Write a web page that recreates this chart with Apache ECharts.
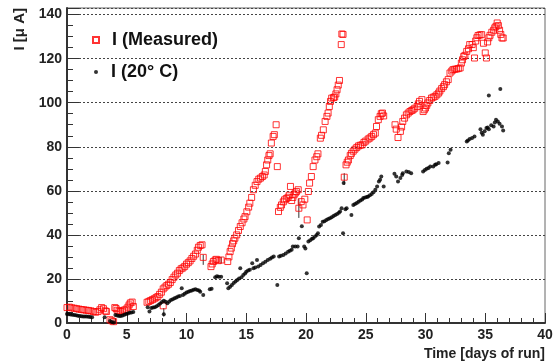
<!DOCTYPE html>
<html>
<head>
<meta charset="utf-8">
<script src="https://cdn.jsdelivr.net/npm/echarts@6/dist/echarts.min.js"></script>
<style>
  html, body { margin: 0; padding: 0; background: #fff; }
  #chart { width: 556px; height: 364px; }
</style>
</head>
<body>
<div id="chart"></div>
<script>
// I (Measured): [day, current in uA]
const measured = [
  [0.0, 7.0], [0.2, 7.2], [0.4, 6.9], [0.6, 6.7], [0.8, 6.5], [1.0, 6.3], [1.2, 6.1], [1.4, 6.0],
  [1.6, 5.8], [1.8, 5.7], [2.0, 5.5], [2.2, 5.2], [2.4, 4.9], [2.6, 5.2], [2.75, 6.0], [2.9, 7.0],
  [3.05, 6.5], [3.2, 5.5], [3.3, 5.2], [3.6, 1.5], [3.75, 1.0], [3.9, 0.6], [4.0, 7.0], [4.1, 6.6],
  [4.2, 5.8], [4.35, 5.4], [4.5, 5.3], [4.65, 5.5], [4.8, 5.9], [4.95, 6.3], [5.1, 7.2], [5.2, 8.2],
  [5.3, 9.1], [5.45, 9.5], [5.55, 7.5],
  [6.7, 9.4], [6.85, 9.8], [7.0, 10.2], [7.15, 10.6], [7.3, 11.0], [7.45, 11.5], [7.6, 12.0],
  [7.75, 13.0], [7.9, 14.0], [8.05, 15.5], [8.05, 7.8], [8.2, 16.3], [8.35, 17.0], [8.5, 17.6],
  [8.65, 18.4], [8.8, 19.7], [8.95, 20.8], [9.1, 21.8], [9.25, 22.6], [9.4, 23.8], [9.55, 24.6],
  [9.7, 25.0], [9.85, 25.7], [10.0, 26.7], [10.15, 27.4], [10.3, 28.2], [10.45, 29.3], [10.6, 30.3],
  [10.75, 31.3], [10.9, 33.0], [11.0, 34.4], [11.15, 35.2], [11.3, 35.5], [11.4, 29.8],
  [12.05, 25.6], [12.15, 26.8], [12.25, 27.9], [12.4, 28.6], [12.5, 28.9], [12.65, 28.3], [12.9, 28.6],
  [13.45, 27.9], [13.55, 30.0], [13.65, 32.4], [13.75, 34.0], [13.85, 36.0], [13.95, 37.3],
  [14.05, 38.5], [14.2, 40.0], [14.35, 42.0], [14.5, 43.8], [14.65, 45.5], [14.8, 47.2], [14.9, 48.3],
  [15.05, 50.5], [15.2, 52.6], [15.3, 54.4], [15.45, 57.0], [15.6, 60.5], [15.75, 62.5], [15.9, 64.2],
  [16.05, 65.3], [16.2, 65.8], [16.35, 66.5], [16.5, 67.2], [16.6, 68.8], [16.7, 71.8], [16.8, 74.0],
  [16.9, 76.0], [17.0, 76.8], [17.1, 81.7], [17.25, 84.7], [17.35, 85.5], [17.5, 90.0], [17.6, 71.0],
  [17.7, 50.6], [17.85, 52.5], [17.95, 53.6], [18.1, 55.0], [18.2, 55.9], [18.35, 56.5], [18.5, 57.1],
  [18.6, 58.0], [18.7, 62.0], [18.8, 55.6], [18.9, 57.0], [19.0, 58.2], [19.1, 59.0], [19.2, 59.7],
  [19.35, 60.5], [19.4, 52.1], [19.6, 55.1], [19.75, 53.6], [19.9, 56.2], [20.1, 46.8], [20.2, 59.7],
  [20.3, 63.5], [20.45, 66.5], [20.6, 71.0], [20.75, 74.0], [20.9, 75.5], [21.0, 76.8], [21.2, 83.9],
  [21.3, 85.2], [21.45, 87.7], [21.6, 91.5], [21.75, 93.8], [21.85, 95.3], [21.95, 98.3], [22.05, 100.6],
  [22.15, 102.1], [22.3, 102.3], [22.4, 102.6], [22.5, 104.0], [22.6, 105.9], [22.7, 108.0], [22.8, 110.1],
  [22.95, 126.4], [23.0, 131.2], [23.1, 131.0],
  [23.2, 66.2], [23.35, 71.8], [23.45, 73.0], [23.55, 74.0], [23.7, 76.0], [23.8, 77.0], [23.95, 78.0],
  [24.1, 78.9], [24.25, 79.7], [24.4, 80.4], [24.55, 80.7], [24.7, 80.9], [24.85, 82.0], [25.0, 82.6],
  [25.2, 83.5], [25.35, 84.0], [25.5, 84.7], [25.65, 85.5], [25.8, 86.2], [25.9, 89.2], [26.05, 92.3],
  [26.2, 93.8], [26.3, 95.0], [26.4, 95.3], [26.5, 94.0],
  [27.45, 90.0], [27.55, 88.0], [27.7, 84.2], [27.9, 87.0], [28.0, 89.0], [28.1, 91.5], [28.25, 93.0],
  [28.4, 94.5], [28.55, 95.3], [28.7, 96.0], [28.85, 96.5], [28.96, 96.8], [29.1, 97.5], [29.3, 98.3],
  [29.4, 99.5], [29.5, 100.6], [29.7, 101.4], [29.8, 96.0], [29.9, 96.8], [30.0, 97.6], [30.1, 98.8],
  [30.2, 99.9], [30.35, 101.0], [30.5, 102.1], [30.65, 102.5], [30.8, 102.9], [30.95, 103.6],
  [31.1, 104.4], [31.2, 105.3], [31.35, 106.4], [31.5, 107.3], [31.6, 108.2], [31.75, 109.5],
  [31.9, 110.5], [32.05, 113.5], [32.2, 114.4], [32.3, 115.0], [32.45, 115.2], [32.6, 115.3],
  [32.75, 115.5], [32.9, 115.8], [33.0, 118.0], [33.1, 119.5], [33.2, 121.0], [33.3, 121.5],
  [33.45, 123.3], [33.6, 124.5], [33.7, 126.4], [33.9, 126.4], [34.0, 125.0], [34.1, 120.3],
  [34.2, 128.0], [34.3, 129.5], [34.4, 130.5], [34.55, 130.8], [34.7, 130.9], [34.85, 127.0],
  [35.0, 122.6], [35.1, 120.3], [35.2, 127.6], [35.3, 129.5], [35.4, 130.6], [35.55, 132.0],
  [35.7, 132.9], [35.8, 134.0], [35.9, 134.7], [36.0, 136.2], [36.1, 135.0], [36.2, 132.9],
  [36.3, 131.0], [36.4, 129.4], [36.5, 129.4]
]

// I (20 C): [day, current in uA]
const corrected = [
  [0.0, 4.1], [0.15, 4.0], [0.3, 3.9], [0.45, 3.7], [0.6, 3.6], [0.75, 3.5], [0.9, 3.3], [1.05, 3.2],
  [1.2, 3.1], [1.35, 3.0], [1.5, 2.95], [1.65, 2.9], [1.8, 2.8], [1.95, 2.7], [2.1, 2.6], [3.15, 2.6],
  [3.6, 0.9], [3.75, 0.5], [3.9, 0.2], [4.05, 3.6], [4.2, 3.4], [4.35, 3.2], [4.5, 3.2], [4.65, 3.4],
  [4.8, 3.8], [4.95, 4.1], [5.1, 4.3], [5.25, 4.6], [5.4, 4.8], [5.55, 5.0],
  [6.75, 7.1], [6.9, 5.2], [7.05, 6.8], [7.2, 7.0], [7.35, 7.1], [7.5, 7.6], [7.65, 8.2], [7.8, 8.8],
  [7.95, 9.5], [8.1, 10.1], [8.1, 4.0], [8.25, 9.6], [8.4, 9.0], [8.55, 9.8], [8.7, 10.4], [8.85, 10.8],
  [9.0, 11.2], [9.15, 11.6], [9.3, 12.0], [9.45, 12.3], [9.6, 15.8], [9.7, 12.7], [9.85, 13.3],
  [10.0, 13.8], [10.15, 14.2], [10.3, 14.5], [10.45, 14.8], [10.6, 15.1], [10.75, 15.3], [10.9, 15.0],
  [11.05, 14.8], [11.15, 14.2], [11.4, 12.7],
  [11.95, 15.3], [12.1, 15.6], [12.4, 20.8], [12.55, 21.2], [12.7, 21.0], [12.9, 21.0],
  [13.4, 18.0], [13.5, 15.8], [13.65, 16.5], [13.8, 17.3], [13.95, 18.2], [14.1, 18.8], [14.25, 19.5],
  [14.4, 20.2], [14.5, 24.8], [14.6, 20.8], [14.75, 21.8], [14.9, 22.5], [15.0, 23.3], [15.15, 23.8],
  [15.3, 24.2], [15.5, 27.1], [15.6, 24.8], [15.75, 25.2], [15.9, 28.6], [16.0, 25.6], [16.2, 26.3],
  [16.4, 27.1], [16.6, 27.8], [16.8, 28.6], [17.0, 29.2], [17.15, 29.7], [17.3, 30.2], [17.6, 17.3],
  [17.75, 30.2], [17.9, 30.5], [18.1, 30.9], [18.3, 31.5], [18.5, 32.4], [18.65, 32.8], [18.8, 33.2],
  [18.9, 34.7], [19.1, 34.7], [19.3, 34.7], [19.4, 38.5], [19.65, 43.9], [19.85, 34.7], [19.95, 33.8],
  [20.06, 22.6], [20.2, 37.0], [20.35, 37.6], [20.5, 38.3], [20.6, 38.5], [20.75, 39.3], [20.9, 40.0],
  [21.0, 40.8], [21.1, 43.8], [21.25, 44.5], [21.4, 46.0], [21.55, 46.2], [21.7, 46.8], [21.85, 47.2],
  [22.0, 47.6], [22.15, 48.0], [22.3, 48.6], [22.45, 49.0], [22.6, 49.5], [22.75, 50.0], [22.85, 50.6],
  [22.98, 52.1], [23.1, 40.8], [23.15, 63.5], [23.3, 51.6], [23.4, 52.1], [23.8, 49.0], [23.96, 53.6],
  [24.1, 54.0], [24.25, 54.5], [24.4, 55.1], [24.55, 55.6], [24.7, 56.1], [24.8, 56.7], [24.95, 57.0],
  [25.1, 57.2], [25.2, 57.4], [25.35, 58.0], [25.5, 58.6], [25.65, 59.3], [25.8, 60.5], [25.95, 62.0],
  [26.1, 64.2], [26.2, 65.0], [26.3, 66.5], [26.5, 62.0],
  [27.4, 67.8], [27.55, 66.5], [27.7, 64.2], [27.9, 65.8], [28.05, 67.2], [28.1, 68.0], [28.4, 68.8],
  [28.6, 68.5], [28.8, 68.0], [29.8, 68.8], [29.95, 69.5], [30.1, 70.0], [30.25, 70.4], [30.4, 71.0],
  [30.65, 71.0], [30.8, 71.8], [30.9, 72.1], [31.1, 72.6], [31.85, 72.9], [31.95, 77.1], [32.1, 78.6],
  [33.45, 82.4], [33.55, 82.9], [33.7, 83.5], [33.9, 84.0], [34.1, 84.7], [34.6, 88.0], [34.7, 86.4],
  [34.8, 85.5], [34.95, 87.0], [35.1, 88.5], [35.2, 88.8], [35.3, 88.0], [35.3, 103.3], [35.5, 89.8],
  [35.7, 89.2], [35.8, 91.0], [35.9, 92.3], [36.05, 91.5], [36.2, 90.5], [36.26, 106.2], [36.4, 89.2],
  [36.5, 87.4]
]

// error bars: [day, low, high]
const errorBars = [
  [8.1, 2.9, 6.8], [11.4, 26.4, 31.0], [12.9, 27.0, 30.0], [19.4, 47.7, 56.4], [23.2, 62.7, 68.0]
]

const xTicks = { min: 0, max: 40, step: 5 }
const yTicks = { min: 0, max: 143, step: 20 }

const font = '"Liberation Sans", Arial, Helvetica, sans-serif'

const chart = echarts.init(document.getElementById('chart'), null, { renderer: 'canvas' })

const legendText = { fontFamily: font, fontWeight: 'bold', fontSize: 18, color: '#111', padding: [0, 0, 0, 8] }

const option = {
  animation: false,
  backgroundColor: '#ffffff',
  grid: {
    left: 67,
    right: 11,
    top: 8,
    bottom: 41,
    show: true,
    borderColor: '#666',
    borderWidth: 1,
  },
  legend: [
    {
      data: ['I (Measured)'],
      left: 87,
      top: 26,
      itemWidth: 6,
      itemHeight: 6,
      textStyle: legendText,
    },
    {
      data: ['I (20\u00B0 C)'],
      left: 89,
      top: 58,
      itemWidth: 4,
      itemHeight: 4,
      textStyle: legendText,
    },
  ],
  xAxis: {
    type: 'value',
    min: xTicks.min,
    max: xTicks.max,
    interval: xTicks.step,
    axisLine: { lineStyle: { color: '#333', width: 2 } },
    axisTick: { inside: true, length: 10, lineStyle: { color: '#333', width: 1 } },
    minorTick: { show: true, splitNumber: 5, length: 5, lineStyle: { color: '#333', width: 1 } },
    axisLabel: { fontFamily: font, fontWeight: 'bold', fontSize: 14, color: '#222', margin: 5 },
    splitLine: { show: false },
  },
  yAxis: {
    type: 'value',
    min: yTicks.min,
    max: yTicks.max,
    interval: yTicks.step,
    axisLine: { show: true, lineStyle: { color: '#333', width: 2 } },
    axisTick: { show: true, inside: true, length: 12, lineStyle: { color: '#333', width: 1 } },
    minorTick: { show: true, splitNumber: 4, length: 6, lineStyle: { color: '#333', width: 1 } },
    axisLabel: { fontFamily: font, fontWeight: 'bold', fontSize: 14, color: '#222', margin: 5 },
    splitLine: { show: true, lineStyle: { color: '#444', width: 1, type: [2, 2] } },
  },
  graphic: [
    {
      type: 'text',
      x: 20,
      y: 8,
      rotation: Math.PI / 2,
      style: {
        text: 'I [\u03BC A]',
        font: 'bold 15px ' + font,
        fill: '#222',
        textAlign: 'right',
        textVerticalAlign: 'middle',
      },
    },
    {
      type: 'text',
      right: 11,
      top: 347,
      style: {
        text: 'Time [days of run]',
        font: 'bold 14px ' + font,
        fill: '#222',
      },
    },
  ],
  series: [
    {
      name: 'I (Measured)',
      type: 'scatter',
      symbol: 'rect',
      symbolSize: 6,
      data: measured,
      itemStyle: { color: 'rgba(255,255,255,0)', borderColor: '#ff0000', borderWidth: 1 },
      z: 3,
    },
    {
      name: 'I (20\u00B0 C)',
      type: 'scatter',
      symbol: 'circle',
      symbolSize: 4,
      data: corrected,
      itemStyle: { color: '#000' },
      z: 4,
    },
    {
      type: 'custom',
      data: errorBars,
      renderItem: function (params, api) {
        const top = api.coord([api.value(0), api.value(2)])
        const bottom = api.coord([api.value(0), api.value(1)])
        return {
          type: 'line',
          shape: { x1: top[0], y1: top[1], x2: bottom[0], y2: bottom[1] },
          style: { stroke: '#333', lineWidth: 1 },
        }
      },
      z: 2,
    },
  ],
}

chart.setOption(option)
</script>
</body>
</html>
